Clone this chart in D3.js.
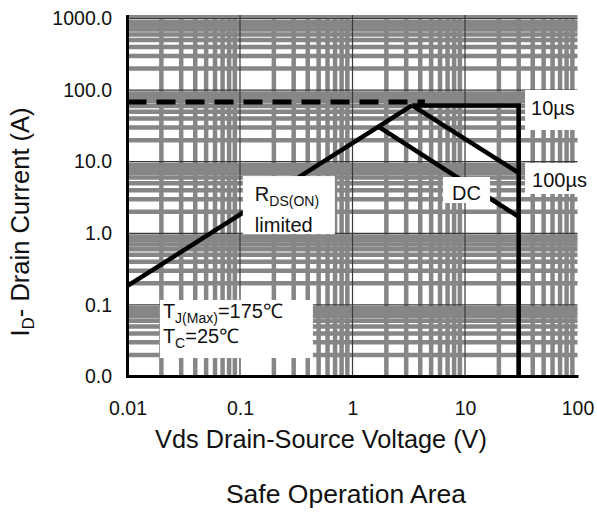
<!DOCTYPE html>
<html>
<head>
<meta charset="utf-8">
<script src="https://cdn.jsdelivr.net/npm/d3@7"></script>
<style>
  html, body { margin: 0; padding: 0; background: #fff; }
  svg { display: block; font-family: "Liberation Sans", Arial, sans-serif; }
</style>
</head>
<body>
<svg id="chart" width="597" height="512"></svg>
<script>
// ---- data ----
const xTickValues = [0.01, 0.1, 1, 10, 100];
const xTickLabels = ["0.01", "0.1", "1", "10", "100"];
const yTickValues = [0.01, 0.1, 1, 10, 100, 1000];
const yTickLabels = ["0.0", "0.1", "1.0", "10.0", "100.0", "1000.0"];

const packageLimitV = [0.01, 4.4];
const packageLimitI = [68, 68];
const rdsLimitV = [0.01, 3.38];
const rdsLimitI = [0.184, 61];
const pulse10usV = [3.38, 30, 30];
const pulse10usI = [61, 61, 0.01];
const pulse100usV = [3.38, 30];
const pulse100usI = [61, 7];
const dcV = [1.7, 30];
const dcI = [31, 1.7];

// ---- layout ----
const svg = d3.select("#chart");
const X0 = 127.5, X1 = 577.5, Y0 = 376.5, Y1 = 18.5;
const xs = d3.scaleLog().domain([0.01, 100]).range([X0, X1]);
const ys = d3.scaleLog().domain([0.01, 1000]).range([Y0, Y1]);
const GRID = "#868686";

const isDecade = v => Math.abs(Math.log10(v) - Math.round(Math.log10(v))) < 1e-9;
const xMinor = xs.ticks(40).filter(v => !isDecade(v));
const yMinor = ys.ticks(60).filter(v => !isDecade(v));

const g = svg.append("g");

// top strip of plot background
g.append("rect").attr("x", X0).attr("y", Y1 - 3.5).attr("width", X1 - X0).attr("height", 3.5).attr("fill", GRID);

// minor grid (thick gray)
g.selectAll("line.hm").data(yMinor).join("line")
  .attr("x1", X0).attr("x2", X1).attr("y1", d => ys(d)).attr("y2", d => ys(d))
  .attr("stroke", GRID).attr("stroke-width", 4.5);
g.selectAll("line.vm").data(xMinor).join("line")
  .attr("y1", Y1 - 3.5).attr("y2", Y0).attr("x1", d => xs(d)).attr("x2", d => xs(d))
  .attr("stroke", GRID).attr("stroke-width", 4.5);

// major grid (thin dark)
g.selectAll("line.hM").data(yTickValues.slice(1)).join("line")
  .attr("x1", X0).attr("x2", X1).attr("y1", d => ys(d)).attr("y2", d => ys(d))
  .attr("stroke", "#3a3a3a").attr("stroke-width", 1.2);
g.selectAll("line.vM").data(xTickValues.slice(1, 4)).join("line")
  .attr("y1", Y1 - 3.5).attr("y2", Y0).attr("x1", d => xs(d)).attr("x2", d => xs(d))
  .attr("stroke", "#3a3a3a").attr("stroke-width", 1.2);

// ---- curves ----
const line = d3.line().x(d => xs(d[0])).y(d => ys(d[1]));
const zip = (a, b) => a.map((v, i) => [v, b[i]]);
const curves = [
  { v: rdsLimitV, i: rdsLimitI },
  { v: pulse100usV, i: pulse100usI },
  { v: dcV, i: dcI },
  { v: pulse10usV, i: pulse10usI },
];
g.selectAll("path.curve").data(curves).join("path")
  .attr("d", c => line(zip(c.v, c.i)))
  .attr("fill", "none").attr("stroke", "#000").attr("stroke-width", 4.5)
  .attr("stroke-linejoin", "miter").attr("stroke-linecap", "butt");
g.append("path").attr("d", line(zip(packageLimitV, packageLimitI)))
  .attr("fill", "none").attr("stroke", "#000").attr("stroke-width", 5)
  .attr("stroke-dasharray", "19,10");

// ---- annotation boxes (anchored in data coords) ----
const notes = [
  { v: 0.106, i: 6.3, w: 92, h: 58, lines: [
      { dx: 12, dy: 25, parts: [["R", 20, 0], ["DS(ON)", 14, 5]] },
      { dx: 12, dy: 56, parts: [["limited", 20, 0]] } ] },
  { v: 0.0194, i: 0.117, w: 153, h: 58, lines: [
      { dx: 3, dy: 18, parts: [["T", 20, 0], ["J(Max)", 14, 5], ["=175℃", 20, -5]] },
      { dx: 3, dy: 43, parts: [["T", 20, 0], ["C", 14, 5], ["=25℃", 20, -5]] } ] },
  { v: 6.38, i: 6.11, w: 47, h: 26, lines: [
      { dx: 9, dy: 23, parts: [["DC", 20, 0]] } ] },
  { v: 34.2, i: 100.3, w: 72, h: 40, lines: [
      { dx: 6, dy: 25, parts: [["10µs", 20, 0]] } ] },
  { v: 34.2, i: 9.6, w: 72, h: 31, lines: [
      { dx: 7, dy: 24, parts: [["100µs", 20, 0]] } ] },
];
notes.forEach(n => {
  const x = xs(n.v), y = ys(n.i);
  svg.append("rect").attr("x", x).attr("y", y).attr("width", n.w).attr("height", n.h).attr("fill", "#fff");
  n.lines.forEach(l => {
    const t = svg.append("text").attr("x", x + l.dx).attr("y", y + l.dy).attr("fill", "#111");
    l.parts.forEach(p => t.append("tspan").text(p[0]).attr("font-size", p[1]).attr("dy", p[2]));
  });
});

// ---- axes ----
const xAxis = d3.axisBottom(xs).tickValues(xTickValues).tickFormat((d, i) => xTickLabels[i]).tickSize(0).tickPadding(25);
const yAxis = d3.axisLeft(ys).tickValues(yTickValues).tickFormat((d, i) => yTickLabels[i]).tickSize(0).tickPadding(15.5);
const gx = svg.append("g").attr("transform", `translate(0,${Y0})`).call(xAxis);
const gy = svg.append("g").attr("transform", `translate(${X0},0)`).call(yAxis);
[gx, gy].forEach(a => {
  a.select(".domain").remove();
  a.selectAll("text").attr("font-size", 19.5).attr("font-family", "Liberation Sans, Arial, sans-serif").attr("fill", "#111");
});

// axis lines
svg.append("line").attr("x1", X0).attr("x2", X0).attr("y1", Y1 - 3.5).attr("y2", Y0 + 1.5).attr("stroke", "#000").attr("stroke-width", 3);
svg.append("line").attr("x1", X0 - 1.5).attr("x2", X1 + 1).attr("y1", Y0).attr("y2", Y0).attr("stroke", "#000").attr("stroke-width", 3);

// titles
svg.append("text").attr("x", 321).attr("y", 448).attr("text-anchor", "middle")
  .attr("font-size", 25.3).attr("fill", "#111").text("Vds Drain-Source Voltage (V)");
const yt = svg.append("text").attr("transform", "translate(29,222) rotate(-90)")
  .attr("text-anchor", "middle").attr("font-size", 25.5).attr("fill", "#111");
yt.append("tspan").text("I");
yt.append("tspan").text("D").attr("font-size", 17).attr("dy", 5);
yt.append("tspan").text("- Drain Current (A)").attr("dy", -5);
svg.append("text").attr("x", 346).attr("y", 503).attr("text-anchor", "middle")
  .attr("font-size", 26.5).attr("fill", "#111").text("Safe Operation Area");
</script>
</body>
</html>
